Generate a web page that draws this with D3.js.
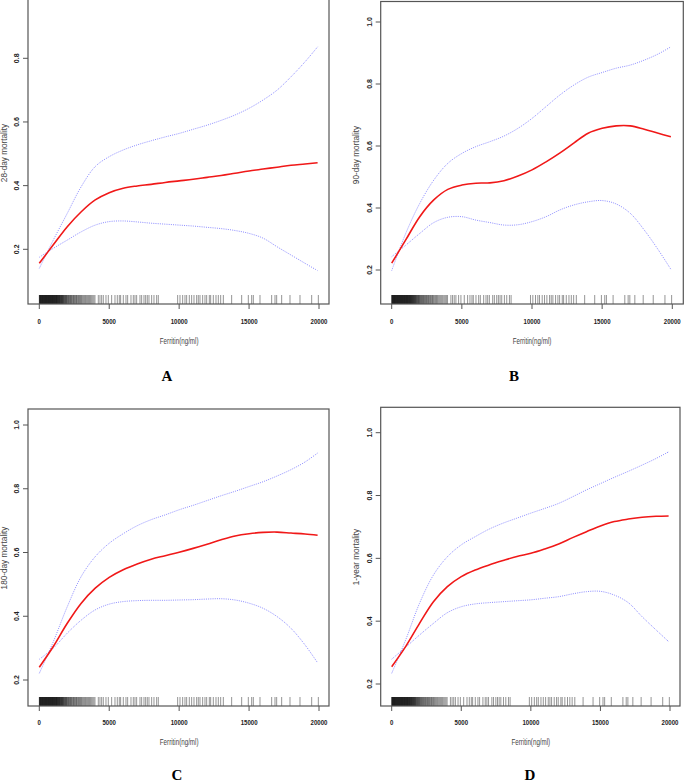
<!DOCTYPE html>
<html><head><meta charset="utf-8">
<script src="https://cdn.jsdelivr.net/npm/d3@7"></script>
<style>body{margin:0;background:#fff;}svg{display:block;}</style>
</head><body>
<script>
// ---------- DATA ----------
const ferritin = [0,1000,2000,3000,4000,5000,6000,7000,8000,9000,10000,11000,12000,13000,14000,15000,16000,17000,18000,19000,19900];
const xTicks = [0,5000,10000,15000,20000];
const yTicksA = [0.2,0.4,0.6,0.8];
const yTicksBCD = [0.2,0.4,0.6,0.8,1.0];
const panelTitles = ["A","B","C","D"];
const yLabels = ["28-day mortality","90-day mortality","180-day mortality","1-year mortality"];
const xLabel = "Ferritin(ng/ml)";

const fitA  = [0.156,0.214,0.271,0.318,0.355,0.378,0.392,0.399,0.404,0.410,0.415,0.420,0.426,0.432,0.439,0.446,0.452,0.458,0.464,0.468,0.472];
const upA   = [0.140,0.229,0.313,0.397,0.460,0.491,0.512,0.528,0.541,0.553,0.564,0.577,0.590,0.605,0.622,0.643,0.669,0.700,0.742,0.789,0.836];
const loA   = [0.175,0.203,0.229,0.255,0.276,0.287,0.289,0.286,0.282,0.279,0.276,0.273,0.269,0.265,0.259,0.250,0.235,0.208,0.182,0.156,0.133];

const fitB  = [0.222,0.297,0.372,0.426,0.460,0.474,0.480,0.481,0.488,0.503,0.523,0.549,0.578,0.610,0.641,0.657,0.665,0.665,0.654,0.641,0.630];
const upB   = [0.198,0.318,0.415,0.490,0.544,0.576,0.598,0.614,0.632,0.657,0.689,0.727,0.765,0.797,0.822,0.837,0.851,0.861,0.877,0.897,0.920];
const loB   = [0.243,0.280,0.318,0.353,0.370,0.372,0.361,0.353,0.345,0.346,0.356,0.372,0.394,0.410,0.420,0.424,0.413,0.383,0.329,0.265,0.202];

const fitC  = [0.240,0.305,0.378,0.441,0.488,0.522,0.546,0.564,0.579,0.590,0.601,0.613,0.626,0.640,0.652,0.659,0.663,0.664,0.661,0.658,0.654];
const upC   = [0.221,0.320,0.430,0.525,0.587,0.629,0.659,0.684,0.703,0.718,0.734,0.748,0.763,0.778,0.792,0.807,0.822,0.840,0.860,0.884,0.912];
const loC   = [0.265,0.300,0.347,0.388,0.420,0.438,0.446,0.449,0.450,0.450,0.451,0.452,0.454,0.455,0.451,0.441,0.425,0.399,0.362,0.310,0.254];

const fitD  = [0.255,0.319,0.393,0.462,0.510,0.542,0.563,0.579,0.593,0.606,0.616,0.630,0.646,0.666,0.685,0.703,0.717,0.725,0.731,0.734,0.735];
const upD   = [0.234,0.340,0.457,0.547,0.605,0.643,0.669,0.693,0.712,0.728,0.744,0.759,0.775,0.796,0.818,0.838,0.858,0.877,0.897,0.918,0.939];
const loD   = [0.279,0.317,0.356,0.393,0.427,0.446,0.455,0.459,0.462,0.465,0.468,0.473,0.478,0.487,0.494,0.495,0.483,0.459,0.414,0.372,0.335];

// observed ferritin values (rug)
const rugValues = [0,15,30,50,65,80,100,115,130,150,170,185,200,220,235,250,270,290,305,320,340,360,375,390,410,430,445,460,480,500,515,530,550,570,585,600,620,640,655,670,690,710,725,740,760,780,795,810,830,850,870,885,900,920,940,955,970,990,1010,1030,1045,1060,1080,1100,1120,1135,1150,1170,1190,1210,1230,1245,1260,1280,1300,1320,1340,1360,1380,1400,1420,1440,1460,1480,1500,1525,1550,1570,1590,1615,1640,1660,1685,1710,1735,1760,1790,1820,1850,1880,1910,1940,1970,2000,
 2040,2080,2110,2150,2190,2230,2270,2310,2350,2400,2440,2480,2530,2570,2620,2660,2710,2760,2810,2860,2910,2960,3010,3070,3130,3190,3250,3310,3380,3450,3520,3590,3660,3740,3820,3900,3980,
 4219,4338,4458,4577,4768,4934,5173,5411,5578,5721,5816,6007,6198,6317,6555,6722,6841,6961,7199,7318,7485,7604,7723,7843,8033,8200,8391,8510,
 9893,10060,10250,10417,10536,10727,10894,11061,11251,11370,11490,11680,11847,11967,12157,12253,12443,12634,12801,12968,13159,13754,14470,14946,15185,15304,15781,16615,16853,16973,17330,17926,18641,19476,19952];

// ---------- LAYOUT ----------
const panels = [
  {fit:fitA, up:upA, lo:loA, yt:yTicksA, box:[28,329,-1,304], xr:[39.3,319], yd:[0.2,0.8], yr:[249.3,58.3], ytx:17, ylx:4.5, yly:153, xty:321, xly:341, lx:167, ly:381},
  {fit:fitB, up:upB, lo:loB, yt:yTicksBCD, box:[380.7,683.3,1.5,304], xr:[391.7,672.3], yd:[0.2,1.0], yr:[270,22], ytx:370, ylx:356, yly:155, xty:321, xly:341, lx:514, ly:381},
  {fit:fitC, up:upC, lo:loC, yt:yTicksBCD, box:[28,329,409,706], xr:[39.3,319], yd:[0.2,1.0], yr:[680,425], ytx:17, ylx:4.5, yly:558, xty:722, xly:742, lx:177, ly:780},
  {fit:fitD, up:upD, lo:loD, yt:yTicksBCD, box:[380.7,680,407.3,706], xr:[391.7,670], yd:[0.2,1.0], yr:[684,432.7], ytx:370, ylx:356, yly:557, xty:722, xly:742, lx:530, ly:780}
];

const svg = d3.select("body").append("svg").attr("width",685).attr("height",784);
const sans = "'Liberation Sans', Arial, sans-serif";
const squeeze = 0.76; // horizontal compression of the source figure's text

panels.forEach((p,i)=>{
  const g = svg.append("g");
  const x = d3.scaleLinear().domain([0,20000]).range(p.xr);
  const y = d3.scaleLinear().domain(p.yd).range(p.yr);
  const [bl,br,bt,bb] = p.box;

  // rug
  g.append("g").selectAll("line").data(rugValues).join("line")
    .attr("x1",d=>x(d)).attr("x2",d=>x(d))
    .attr("y1",bb-9).attr("y2",bb)
    .attr("stroke","#000").attr("stroke-opacity",0.42).attr("stroke-width",1);

  // lines
  const line = d3.line().x((d,j)=>x(ferritin[j])).y(d=>y(d)).curve(d3.curveCatmullRom.alpha(0.5));
  [p.up,p.lo].forEach(arr=>{
    g.append("path").attr("d",line(arr)).attr("fill","none")
     .attr("stroke","#8c8cff").attr("stroke-width",1).attr("stroke-dasharray","1,1.2");
  });
  g.append("path").attr("d",line(p.fit)).attr("fill","none")
    .attr("stroke","#f01818").attr("stroke-width",1.6);

  // box
  g.append("rect").attr("x",bl).attr("y",bt).attr("width",br-bl).attr("height",bb-bt)
    .attr("fill","none").attr("stroke","#555").attr("stroke-width",1.2);

  // x axis ticks
  const xa = g.append("g");
  xa.selectAll("line").data(xTicks).join("line")
    .attr("x1",d=>x(d)).attr("x2",d=>x(d)).attr("y1",bb).attr("y2",bb+5)
    .attr("stroke","#555").attr("stroke-width",1);
  xa.selectAll("text").data(xTicks).join("text")
    .attr("transform",d=>`translate(${x(d)},${p.xty}) scale(${squeeze},1)`)
    .attr("dy","0.35em")
    .attr("text-anchor","middle").attr("font-family",sans).attr("font-size",8)
    .attr("font-weight","bold").attr("fill","#222").text(d=>d);

  // y axis ticks
  const ya = g.append("g");
  ya.selectAll("line").data(p.yt).join("line")
    .attr("x1",bl-5).attr("x2",bl).attr("y1",d=>y(d)).attr("y2",d=>y(d))
    .attr("stroke","#555").attr("stroke-width",1);
  ya.selectAll("text").data(p.yt).join("text")
    .attr("transform",d=>`translate(${p.ytx},${y(d)}) rotate(-90)`)
    .attr("dy","0.35em").attr("text-anchor","middle").attr("font-family",sans)
    .attr("font-size",7).attr("font-weight","bold").attr("fill","#222")
    .text(d=>d3.format(".1f")(d));

  // axis titles
  g.append("text").attr("transform",`translate(${(p.xr[0]+p.xr[1])/2},${p.xly}) scale(${squeeze},1)`)
    .attr("dy","0.35em")
    .attr("text-anchor","middle").attr("font-family",sans).attr("font-size",8.2)
    .attr("fill","#444").text(xLabel);
  g.append("text").attr("transform",`translate(${p.ylx},${p.yly}) rotate(-90)`)
    .attr("dy","0.35em").attr("text-anchor","middle").attr("font-family",sans)
    .attr("font-size",8.2).attr("fill","#444").text(yLabels[i]);

  // panel letter
  g.append("text").attr("x",p.lx).attr("y",p.ly).attr("text-anchor","middle")
    .attr("font-family","'Liberation Serif','Times New Roman',serif").attr("font-weight","bold")
    .attr("font-size",15).attr("fill","#000").text(panelTitles[i]);
});
</script>
</body></html>
